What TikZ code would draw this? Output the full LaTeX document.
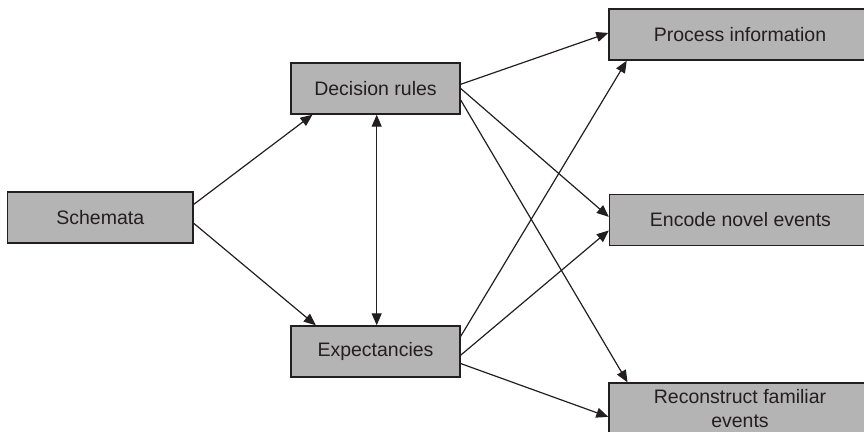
\documentclass[tikz,border=0pt]{standalone}
\usepackage{fontspec}
\setmainfont{Liberation Sans}
\usetikzlibrary{arrows.meta,calc}
\definecolor{boxfill}{RGB}{180,180,180}
\definecolor{ink}{RGB}{35,31,32}
\begin{document}
\begin{tikzpicture}[x=1pt,y=-1pt,
  box/.style={draw=ink,fill=boxfill,line width=1.4pt,rectangle,
    minimum height=51pt,inner sep=0pt,text=ink,font=\fontsize{19.5}{24.5}\selectfont,align=center},
  link/.style={draw=ink,line width=1.2pt,-{Triangle[length=12pt,width=10pt]}},
  both/.style={draw=ink,line width=1.2pt,{Triangle[length=12pt,width=10pt]}-{Triangle[length=12pt,width=10pt]}}]
\useasboundingbox (0,0) rectangle (864,431);
\clip (0,0) rectangle (864,431);

% boxes
\node[box,minimum width=185.5pt] (s)  at (100.25,217.5) {Schemata};
\node[box,minimum width=169pt]   (dr) at (375.5,88.5)   {Decision rules};
\node[box,minimum width=169pt]   (ex) at (375.5,351.5)  {Expectancies};
\node[box,minimum width=262pt]   (pi) at (740,34.5)     {Process information};
\node[box,minimum width=262pt]   (en) at (740.5,220)    {Encode novel events};
\node[box,minimum width=262pt]   (re) at (740,408.5)    {Reconstruct familiar\\events};

% schemata feeds both intermediate boxes
\draw[link] ($(s.north east)!0.25!(s.south east)$) -- ($(dr.south west)!0.13!(dr.south east)$);
\draw[link] ($(s.north east)!0.61!(s.south east)$) -- ($(ex.north west)!0.15!(ex.north east)$);

% mutual link
\draw[both] ($(dr.south west)!0.507!(dr.south east)$) -- ($(ex.north west)!0.507!(ex.north east)$);

% decision rules to outcomes
\draw[link] ($(dr.north east)!0.42!(dr.south east)$) -- ($(pi.north west)!0.47!(pi.south west)$);
\draw[link] ($(dr.north east)!0.50!(dr.south east)$) -- ($(en.north west)!0.44!(en.south west)$);
\draw[link] ($(dr.north east)!0.72!(dr.south east)$) -- ($(re.north west)!0.073!(re.north east)$);

% expectancies to outcomes
\draw[link] ($(ex.north east)!0.21!(ex.south east)$) -- ($(pi.south west)!0.07!(pi.south east)$);
\draw[link] ($(ex.north east)!0.57!(ex.south east)$) -- ($(en.north west)!0.70!(en.south west)$);
\draw[link] ($(ex.north east)!0.73!(ex.south east)$) -- ($(re.north west)!0.66!(re.south west)$);
\end{tikzpicture}
\end{document}
